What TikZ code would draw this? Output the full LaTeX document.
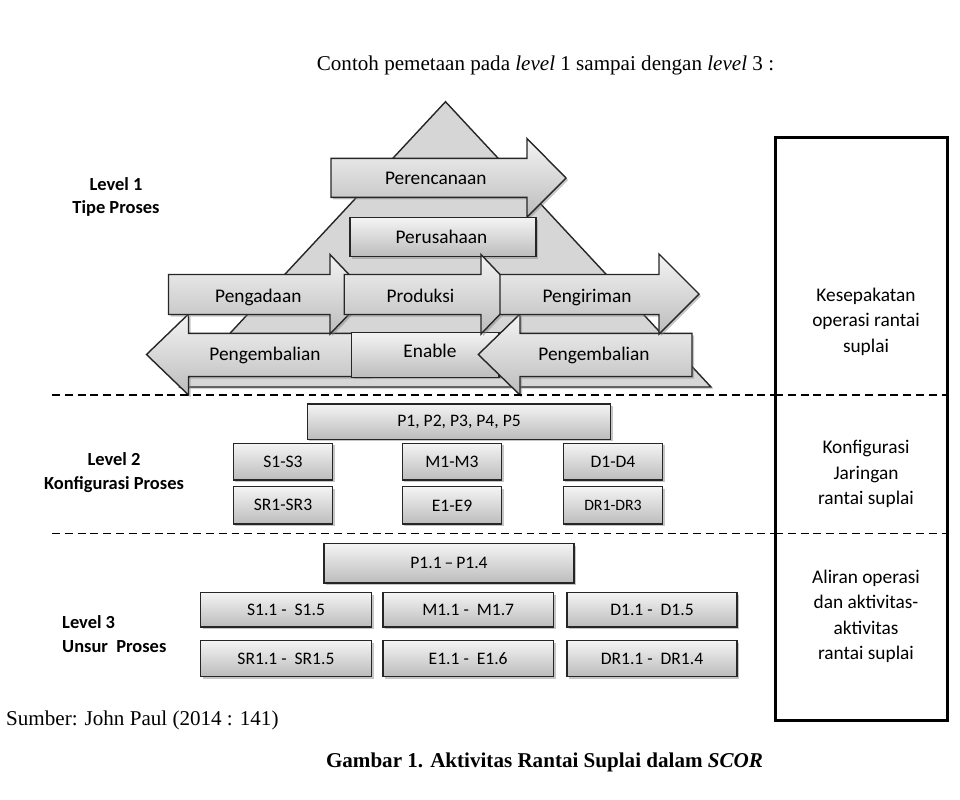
\documentclass[tikz,border=0pt]{standalone}
\usepackage{fontspec}
\setmainfont{Liberation Serif}
\newfontfamily\calibri[Ligatures=TeX]{Carlito}
\usetikzlibrary{shadows}
\definecolor{abumuda}{RGB}{244, 244, 244}
\definecolor{abutua}{RGB}{188, 188, 188}
\definecolor{segitiga}{RGB}{214, 214, 214}

\begin{document}
\begin{tikzpicture}[x=0.02cm, y=-0.02cm,
    blok/.style={draw=black!85, thick, top color=abumuda, bottom color=abutua,
                 drop shadow={shadow xshift=1.2pt, shadow yshift=-1.2pt, opacity=.45}},
    isibesar/.style={font=\calibri\fontsize{11}{13}\selectfont, anchor=base},
    isi/.style={font=\calibri\fontsize{10}{12}\selectfont},
    levelteks/.style={font=\calibri\bfseries\fontsize{10.5}{13.6}\selectfont, align=center},
    kanan/.style={font=\calibri\fontsize{11}{14.5}\selectfont, align=center},
    garis/.style={line width=0.9pt, dash pattern=on 4.5pt off 2.8pt}]
    \useasboundingbox (0,0) rectangle (960,799);

    \node[font=\fontsize{12}{14}\selectfont] (judul) at (545.5,65) {Contoh pemetaan pada \textit{level} 1 sampai dengan \textit{level} 3 :};

    \filldraw[draw=black!85, thick, fill=segitiga, drop shadow={shadow xshift=1.2pt, shadow yshift=-1.2pt, opacity=.35}]
        (445.5,101.7) -- (711.0,387.0) -- (180.0,387.0) -- cycle;

    \path[blok] (331.0,158.3) -- (527.0,158.3) -- (527.0,138.5) -- (566.0,178.0) -- (527.0,217.0) -- (527.0,197.3) -- (331.0,197.3) -- cycle;
    \node[isibesar] (rencana) at (435.8,184.3) {Perencanaan};
    \path[blok] (350.0,217.7) rectangle (536.0,256.7);
    \node[isibesar] (usaha) at (441.5,243.0) {Perusahaan};

    \path[blok] (370.0,333.3) -- (188.5,333.3) -- (188.5,314.0) -- (146.5,354.5) -- (188.5,395.0) -- (188.5,376.5) -- (370.0,376.5) -- cycle;
    \node[isibesar] (kembalikiri) at (265.0,360.5) {Pengembalian};
    \path[blok] (351.5,332.5) rectangle (499.0,377.3);
    \node[isibesar] (enable) at (430.0,357.5) {Enable};
    \path[blok] (692.0,333.3) -- (520.0,333.3) -- (520.0,314.0) -- (478.3,354.5) -- (520.0,395.0) -- (520.0,376.5) -- (692.0,376.5) -- cycle;
    \node[isibesar] (kembalikanan) at (594.0,360.5) {Pengembalian};

    \path[blok] (168.5,274.5) -- (330.0,274.5) -- (330.0,254.5) -- (368.0,294.5) -- (330.0,334.0) -- (330.0,314.5) -- (168.5,314.5) -- cycle;
    \node[isibesar] (adaan) at (258.3,302.5) {Pengadaan};
    \path[blok] (344.2,274.5) -- (481.0,274.5) -- (481.0,254.5) -- (519.0,294.5) -- (481.0,334.0) -- (481.0,314.5) -- (344.2,314.5) -- cycle;
    \node[isibesar] (produksi) at (420.5,302.5) {Produksi};
    \path[blok] (500.0,274.5) -- (659.0,274.5) -- (659.0,254.0) -- (699.0,294.0) -- (659.0,334.0) -- (659.0,314.5) -- (500.0,314.5) -- cycle;
    \node[isibesar] (kirim) at (587.0,302.5) {Pengiriman};

    \node[levelteks] (lv1) at (116,197) {Level 1\\Tipe Proses};
    \node[levelteks] (lv2) at (114,472.5) {Level 2\\Konfigurasi Proses};
    \node[levelteks, align=left, anchor=west] (lv3) at (56,634) {Level 3\\Unsur\ \ Proses};

    \draw[garis] (52,395) -- (947,395);
    \draw[garis] (52,533.5) -- (947,533.5);

    \path[blok] (307.3,404.0) rectangle (610.7,439.3);  \node[isi] (p15) at (459.0,421.7) {P1, P2, P3, P4, P5};
    \path[blok] (233.3,443.3) rectangle (332.7,480.0);  \node[isi] (s13) at (283.0,461.7) {S1-S3};
    \path[blok] (402.3,443.3) rectangle (501.7,480.0);  \node[isi] (m13) at (452.0,461.7) {M1-M3};
    \path[blok] (563.3,443.3) rectangle (662.7,480.0);  \node[isi] (d14) at (613.0,461.7) {D1-D4};
    \path[blok] (233.3,486.7) rectangle (332.7,524.0);  \node[isi] (sr13) at (283.0,505.3) {SR1-SR3};
    \path[blok] (402.3,486.7) rectangle (501.7,524.0);  \node[isi] (e19) at (452.0,505.3) {E1-E9};
    \path[blok] (563.3,486.7) rectangle (662.7,524.0);  \node[isi, font=\calibri\fontsize{9}{11}\selectfont] (dr13) at (613.0,505.3) {DR1-DR3};

    \path[blok] (324.0,543.6) rectangle (574.0,582.9);  \node[isi] (p114) at (449.0,563.0) {P1.1\,\textendash\,P1.4};
    \path[blok] (200.7,592.5) rectangle (371.4,627.1);  \node[isi] (s115) at (286.0,609.8) {S1.1 -\ \ S1.5};
    \path[blok] (382.9,592.5) rectangle (553.6,627.1);  \node[isi] (m117) at (468.2,609.8) {M1.1 -\ \ M1.7};
    \path[blok] (566.8,592.5) rectangle (737.1,627.1);  \node[isi] (d115) at (652.0,609.8) {D1.1 -\ \ D1.5};
    \path[blok] (200.7,640.7) rectangle (371.4,676.4);  \node[isi] (sr115) at (286.0,658.5) {SR1.1 -\ \ SR1.5};
    \path[blok] (382.9,640.7) rectangle (553.6,676.4);  \node[isi] (e116) at (468.2,658.5) {E1.1 -\ \ E1.6};
    \path[blok] (566.8,640.7) rectangle (737.1,676.4);  \node[isi] (dr114) at (652.0,658.5) {DR1.1 -\ \ DR1.4};

    \draw[line width=1.7pt, fill=white, drop shadow={shadow xshift=1pt, shadow yshift=-1pt, opacity=.3}] (775,137.5) rectangle (947,720);
    \draw[garis] (775,395) -- (947,395);
    \draw[garis] (775,533.5) -- (947,533.5);
    \node[kanan] (sepakat) at (866,321.5) {Kesepakatan\\operasi rantai\\suplai};
    \node[kanan] (jaringan) at (866,474) {Konfigurasi\\Jaringan\\rantai suplai};
    \node[kanan] (aliran) at (866,616.5) {Aliran operasi\\dan aktivitas-\\aktivitas\\rantai suplai};

    \node[anchor=west, font=\fontsize{12}{14}\selectfont] (sumber) at (0,720) {Sumber: John Paul (2014 : 141)};
    \node[font=\bfseries\fontsize{12}{14}\selectfont] (gambar) at (544.5,762) {Gambar 1. Aktivitas Rantai Suplai dalam \textit{SCOR}};
\end{tikzpicture}
\end{document}
